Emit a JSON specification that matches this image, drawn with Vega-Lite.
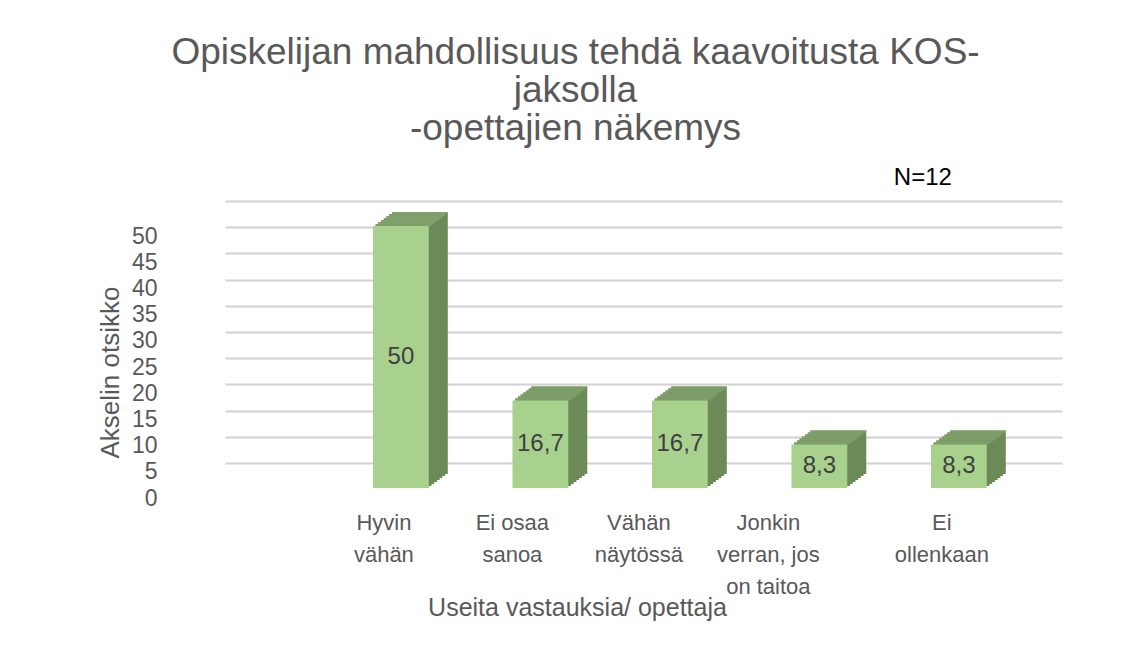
{
  "$schema": "https://vega.github.io/schema/vega-lite/v6.json",
  "width": 837,
  "height": 262,
  "autosize": {"type": "none"},
  "padding": {"left": 225, "top": 201, "right": 68, "bottom": 201},
  "background": "white",
  "config": {
    "view": {"stroke": null},
    "font": "Liberation Sans",
    "locale": {"number": {"decimal": ",", "thousands": " ", "grouping": [3], "currency": ["", " €"]}}
  },
  "title": {
    "text": ["Opiskelijan mahdollisuus tehdä kaavoitusta KOS-", "jaksolla", "-opettajien näkemys"],
    "fontSize": 37,
    "fontWeight": "normal",
    "color": "#595959",
    "lineHeight": 38,
    "anchor": "middle",
    "frame": "group",
    "dx": -68,
    "offset": -19,
    "baseline": "bottom"
  },
  "data": {"values": [
    {"vastaus": "Hyvin vähän", "osuus": 50},
    {"vastaus": "Ei osaa sanoa", "osuus": 16.7},
    {"vastaus": "Vähän näytössä", "osuus": 16.7},
    {"vastaus": "Jonkin verran, jos on taitoa", "osuus": 8.3},
    {"vastaus": "Ei ollenkaan", "osuus": 8.3}
  ]},
  "resolve": {"scale": {"y": "independent"}},
  "layer": [
    {
      "encoding": {
        "x": {
          "field": "vastaus", "type": "nominal", "sort": null,
          "scale": {"paddingInner": 0.6, "paddingOuter": 0.8, "align": 0.663},
          "axis": {
            "title": "Useita vastauksia/ opettaja",
            "titleFontSize": 25, "titleFontWeight": "normal", "titleColor": "#595959",
            "titleX": 352, "titleY": 152, "titleAlign": "center", "titleBaseline": "alphabetic",
            "labelAngle": 0, "labelFontSize": 22, "labelColor": "#595959",
            "labelLineHeight": 32, "labelPadding": 49, "labelBaseline": "top", "labelAlign": "center",
            "labelLimit": 300,
            "domain": false, "ticks": false, "tickSize": 0, "grid": false,
            "labelExpr": "datum.label == 'Hyvin vähän' ? ['Hyvin', 'vähän'] : datum.label == 'Ei osaa sanoa' ? ['Ei osaa', 'sanoa'] : datum.label == 'Vähän näytössä' ? ['Vähän', 'näytössä'] : datum.label == 'Jonkin verran, jos on taitoa' ? ['Jonkin', 'verran, jos', 'on taitoa'] : ['Ei', 'ollenkaan']",
            "labelOffset": {"condition": [
              {"test": "datum.value == 'Hyvin vähän'", "value": -17},
              {"test": "datum.value == 'Ei osaa sanoa'", "value": -28},
              {"test": "datum.value == 'Vähän näytössä'", "value": -41},
              {"test": "datum.value == 'Jonkin verran, jos on taitoa'", "value": -51}
            ], "value": -17}
          }
        },
        "y": {
          "field": "osuus", "type": "quantitative",
          "scale": {"domain": [0, 50], "nice": false},
          "axis": {
            "title": "Akselin otsikko",
            "titleFontSize": 26, "titleFontWeight": "normal", "titleColor": "#595959",
            "titleAngle": -90, "titleX": -107, "titleY": 171, "titleAlign": "center", "titleBaseline": "alphabetic",
            "values": [0, 5, 10, 15, 20, 25, 30, 35, 40, 45, 50],
            "labelFontSize": 23, "labelColor": "#595959", "labelPadding": 68, "labelOffset": 35,
            "domain": false, "ticks": false, "tickSize": 0,
            "grid": true, "gridColor": "#D2D2D2", "gridWidth": 2
          }
        }
      },
      "layer": [
        {"mark": {"type": "bar", "color": "#6B8A57", "xOffset": 2.71, "yOffset": 23, "y2Offset": 23}},
        {"mark": {"type": "bar", "color": "#6B8A57", "xOffset": 5.43, "yOffset": 21, "y2Offset": 21}},
        {"mark": {"type": "bar", "color": "#6B8A57", "xOffset": 8.14, "yOffset": 19, "y2Offset": 19}},
        {"mark": {"type": "bar", "color": "#6B8A57", "xOffset": 10.86, "yOffset": 17, "y2Offset": 17}},
        {"mark": {"type": "bar", "color": "#6B8A57", "xOffset": 13.57, "yOffset": 15, "y2Offset": 15}},
        {"mark": {"type": "bar", "color": "#6B8A57", "xOffset": 16.29, "yOffset": 13, "y2Offset": 13}},
        {"mark": {"type": "bar", "color": "#6B8A57", "xOffset": 19, "yOffset": 11, "y2Offset": 11}},
        {"mark": {"type": "bar", "color": "#7FA06A", "xOffset": 2.71, "yOffset": 23, "y2Offset": 25}, "encoding": {"y2": {"field": "osuus"}}},
        {"mark": {"type": "bar", "color": "#7FA06A", "xOffset": 5.43, "yOffset": 21, "y2Offset": 23}, "encoding": {"y2": {"field": "osuus"}}},
        {"mark": {"type": "bar", "color": "#7FA06A", "xOffset": 8.14, "yOffset": 19, "y2Offset": 21}, "encoding": {"y2": {"field": "osuus"}}},
        {"mark": {"type": "bar", "color": "#7FA06A", "xOffset": 10.86, "yOffset": 17, "y2Offset": 19}, "encoding": {"y2": {"field": "osuus"}}},
        {"mark": {"type": "bar", "color": "#7FA06A", "xOffset": 13.57, "yOffset": 15, "y2Offset": 17}, "encoding": {"y2": {"field": "osuus"}}},
        {"mark": {"type": "bar", "color": "#7FA06A", "xOffset": 16.29, "yOffset": 13, "y2Offset": 15}, "encoding": {"y2": {"field": "osuus"}}},
        {"mark": {"type": "bar", "color": "#7FA06A", "xOffset": 19, "yOffset": 11, "y2Offset": 13}, "encoding": {"y2": {"field": "osuus"}}},
        {"mark": {"type": "bar", "color": "#A9D18E", "yOffset": 25, "y2Offset": 25}}
      ]
    },
    {
      "mark": {"type": "text", "fontSize": 24, "color": "#404040", "baseline": "middle", "align": "center", "dy": 25},
      "encoding": {
        "x": {"field": "vastaus", "type": "nominal", "sort": null},
        "y": {"field": "osuus", "type": "quantitative", "scale": {"domain": [0, 100], "nice": false}, "axis": null},
        "text": {"field": "osuus", "type": "quantitative", "format": ".1~f"}
      }
    },
    {
      "data": {"values": [{"vastaus": "Ei ollenkaan", "huomio": "N=12", "taso": 53}]},
      "mark": {"type": "text", "fontSize": 24, "color": "#000000", "dx": -36, "baseline": "alphabetic", "align": "center"},
      "encoding": {
        "x": {"field": "vastaus", "type": "nominal", "sort": null},
        "y": {"field": "taso", "type": "quantitative", "scale": {"domain": [0, 50], "nice": false}, "axis": null},
        "text": {"field": "huomio", "type": "nominal"}
      }
    }
  ]
}
